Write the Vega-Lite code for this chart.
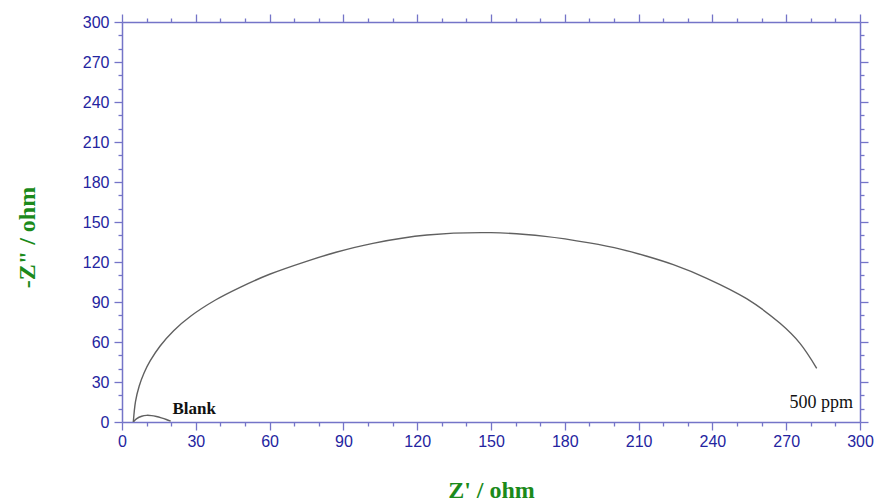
{
  "$schema": "https://vega.github.io/schema/vega-lite/v6.json",
  "autosize": {"type": "none"},
  "width": 738,
  "height": 400,
  "padding": {"left": 122, "top": 22, "right": 16, "bottom": 80},
  "background": "white",
  "config": {"view": {"stroke": null}},
  "datasets": {
    "curves": [
      {"series": "500 ppm", "zr": 4.6, "zi": 0},
      {"series": "500 ppm", "zr": 5.5, "zi": 15.5},
      {"series": "500 ppm", "zr": 7, "zi": 27},
      {"series": "500 ppm", "zr": 9, "zi": 37},
      {"series": "500 ppm", "zr": 11.5, "zi": 46},
      {"series": "500 ppm", "zr": 15.5, "zi": 57},
      {"series": "500 ppm", "zr": 21, "zi": 68.5},
      {"series": "500 ppm", "zr": 28, "zi": 79.5},
      {"series": "500 ppm", "zr": 38, "zi": 91.5},
      {"series": "500 ppm", "zr": 48, "zi": 101},
      {"series": "500 ppm", "zr": 60, "zi": 110.8},
      {"series": "500 ppm", "zr": 75, "zi": 120.5},
      {"series": "500 ppm", "zr": 87, "zi": 127.3},
      {"series": "500 ppm", "zr": 102, "zi": 134},
      {"series": "500 ppm", "zr": 124, "zi": 140.2},
      {"series": "500 ppm", "zr": 150, "zi": 142},
      {"series": "500 ppm", "zr": 172, "zi": 139.2},
      {"series": "500 ppm", "zr": 190, "zi": 134.3},
      {"series": "500 ppm", "zr": 203, "zi": 129.5},
      {"series": "500 ppm", "zr": 213, "zi": 124.5},
      {"series": "500 ppm", "zr": 224.1, "zi": 118},
      {"series": "500 ppm", "zr": 237.7, "zi": 107.8},
      {"series": "500 ppm", "zr": 253.9, "zi": 92.5},
      {"series": "500 ppm", "zr": 267.5, "zi": 74},
      {"series": "500 ppm", "zr": 275.6, "zi": 59},
      {"series": "500 ppm", "zr": 282.4, "zi": 40.3},
      {"series": "Blank", "zr": 4.6, "zi": 0},
      {"series": "Blank", "zr": 6, "zi": 2.5},
      {"series": "Blank", "zr": 8, "zi": 4.3},
      {"series": "Blank", "zr": 10, "zi": 5},
      {"series": "Blank", "zr": 12, "zi": 4.8},
      {"series": "Blank", "zr": 14, "zi": 4.1},
      {"series": "Blank", "zr": 16, "zi": 3.1},
      {"series": "Blank", "zr": 18, "zi": 1.9},
      {"series": "Blank", "zr": 19.8, "zi": 0.6}
    ],
    "blank": [{"label": "Blank", "zr": 20.5, "zi": 6}],
    "ppm": [{"label": "500 ppm", "zr": 297.2, "zi": 10.5}]
  },
  "resolve": {"axis": {"x": "independent", "y": "independent"}},
  "layer": [
    {
      "data": {"name": "curves"},
      "mark": {"type": "line", "color": "#606060", "strokeWidth": 1.4, "interpolate": "catmull-rom", "clip": true},
      "encoding": {
        "detail": {"field": "series", "type": "nominal"},
        "order": {"field": "zr", "type": "quantitative"},
        "x": {
          "field": "zr", "type": "quantitative",
          "scale": {"domain": [0, 300], "nice": false, "zero": false},
          "axis": {
            "orient": "bottom",
            "title": "Z' / ohm",
            "values": [0,10,20,30,40,50,60,70,80,90,100,110,120,130,140,150,160,170,180,190,200,210,220,230,240,250,260,270,280,290,300],
            "labelExpr": "datum.value % 30 === 0 ? datum.label : ''",
            "grid": false,
            "domainColor": "#7474c8",
            "domainWidth": 1.5,
            "tickColor": "#7474c8",
            "tickWidth": 1.3,
            "tickSize": {"condition": {"test": "datum.value % 30 === 0", "value": 8}, "value": 4},
            "labelFont": "Liberation Sans",
            "labelFontSize": 16,
            "labelColor": "#2424a0",
            "labelPadding": 3,
            "labelFlush": false,
            "labelOverlap": false,
            "titleFont": "Liberation Serif",
            "titleFontSize": 24,
            "titleFontWeight": "bold",
            "titleColor": "#1b8a1b",
            "titleY": 75,
            "titleBaseline": "alphabetic"
          }
        },
        "y": {
          "field": "zi", "type": "quantitative",
          "scale": {"domain": [0, 300], "nice": false, "zero": false},
          "axis": {
            "orient": "left",
            "title": "-Z\" / ohm",
            "values": [0,10,20,30,40,50,60,70,80,90,100,110,120,130,140,150,160,170,180,190,200,210,220,230,240,250,260,270,280,290,300],
            "labelExpr": "datum.value % 30 === 0 ? datum.label : ''",
            "grid": false,
            "domainColor": "#7474c8",
            "domainWidth": 1.5,
            "tickColor": "#7474c8",
            "tickWidth": 1.3,
            "tickSize": {"condition": {"test": "datum.value % 30 === 0", "value": 8}, "value": 4},
            "labelFont": "Liberation Sans",
            "labelFontSize": 16,
            "labelColor": "#2424a0",
            "labelPadding": 5,
            "labelFlush": false,
            "labelOverlap": false,
            "titleFont": "Liberation Serif",
            "titleFontSize": 24,
            "titleFontWeight": "bold",
            "titleColor": "#1b8a1b",
            "titleX": -95,
            "titleY": 215,
            "titleBaseline": "middle",
            "titleAngle": -90
          }
        }
      }
    },
    {
      "data": {"name": "blank"},
      "mark": {"type": "text", "font": "Liberation Serif", "fontSize": 17, "fontWeight": "bold", "color": "#111111", "align": "left", "baseline": "alphabetic"},
      "encoding": {
        "text": {"field": "label", "type": "nominal"},
        "x": {
          "field": "zr", "type": "quantitative",
          "axis": {
            "orient": "top",
            "title": null,
            "values": [0,10,20,30,40,50,60,70,80,90,100,110,120,130,140,150,160,170,180,190,200,210,220,230,240,250,260,270,280,290,300],
            "labels": false,
            "grid": false,
            "domainColor": "#7474c8",
            "domainWidth": 1.5,
            "tickColor": "#7474c8",
            "tickWidth": 1.3,
            "tickSize": {"condition": {"test": "datum.value % 30 === 0", "value": 8}, "value": 4}
          }
        },
        "y": {
          "field": "zi", "type": "quantitative",
          "axis": {
            "orient": "right",
            "title": null,
            "values": [0,10,20,30,40,50,60,70,80,90,100,110,120,130,140,150,160,170,180,190,200,210,220,230,240,250,260,270,280,290,300],
            "labels": false,
            "grid": false,
            "domainColor": "#7474c8",
            "domainWidth": 1.5,
            "tickColor": "#7474c8",
            "tickWidth": 1.3,
            "tickSize": {"condition": {"test": "datum.value % 30 === 0", "value": 8}, "value": 4}
          }
        }
      }
    },
    {
      "data": {"name": "ppm"},
      "mark": {"type": "text", "font": "Liberation Serif", "fontSize": 18, "color": "#111111", "align": "right", "baseline": "alphabetic"},
      "encoding": {
        "text": {"field": "label", "type": "nominal"},
        "x": {"field": "zr", "type": "quantitative", "axis": null},
        "y": {"field": "zi", "type": "quantitative", "axis": null}
      }
    }
  ]
}
